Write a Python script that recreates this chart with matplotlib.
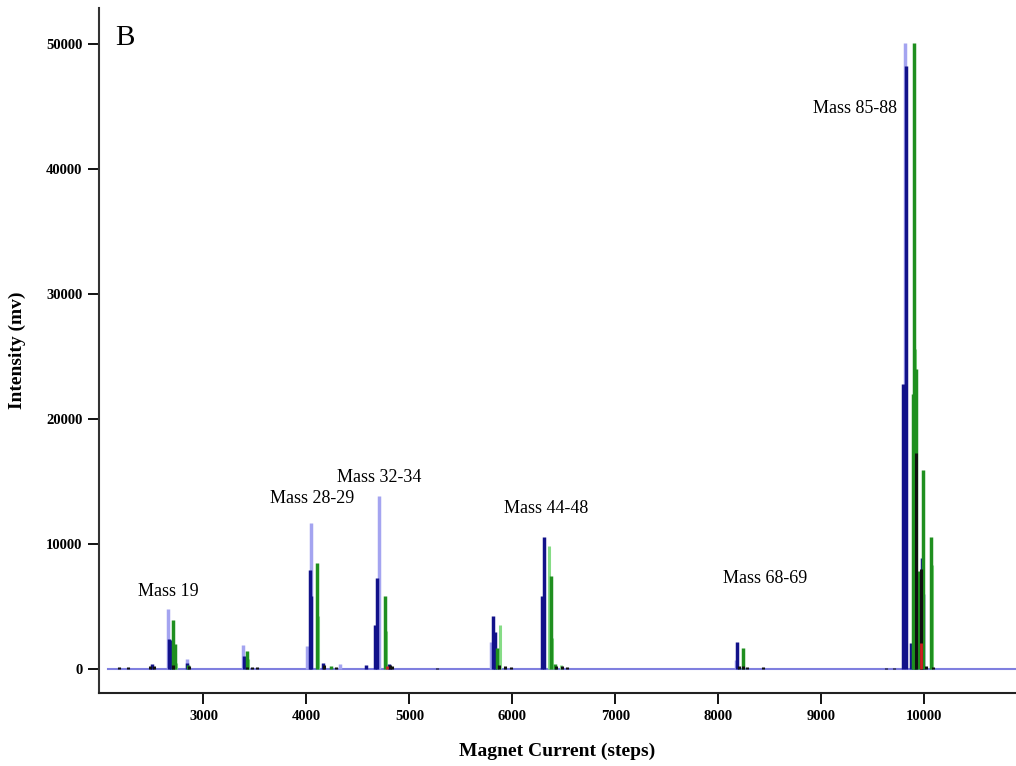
import matplotlib
matplotlib.use('Agg')
import matplotlib.pyplot as plt

# peaks: magnet current (steps) and intensity (mv) for each trace colour
lb_pos = [2660, 2838, 3388, 4009, 4047, 4322, 4703, 5796, 6295, 8172, 9813]
lb_h = [4800, 800, 1900, 1840, 11700, 400, 13800, 2130, 5000, 700, 50100]

db_pos = [2496, 2668, 2683, 2838, 3396, 4031, 4047, 4164, 4574, 4661, 4688, 4800,
          5813, 5832, 6288, 6304, 8180, 9790, 9822, 9868, 9910, 9975, 9990]
db_h = [400, 2400, 2300, 500, 1000, 7900, 5840, 500, 300, 3520, 7300, 400,
        4200, 2990, 5800, 10580, 2190, 22800, 48200, 2100, 13900, 8900, 6000]

gr_pos = [2700, 2720, 2850, 3420, 4106, 4240, 4758, 5852, 6378, 6417, 8243,
          9890, 9900, 9915, 9945, 9984, 10062]
gr_h = [3900, 2000, 300, 1400, 8500, 200, 5850, 1710, 7440, 400, 1700,
        22000, 50100, 24000, 7800, 15900, 10580]

lg_pos = [2730, 3430, 4110, 4770, 5877, 6359, 6385, 6467, 9908, 9895, 10070]
lg_h = [500, 800, 4200, 3000, 3500, 9840, 2480, 300, 25600, 8700, 8300]

bk_pos = [2180, 2270, 2480, 2520, 2700, 2860, 3420, 3470, 3520, 4170, 4290, 4810,
          4830, 5270, 5870, 5930, 5990, 6420, 6480, 6530, 8200, 8240, 8280, 8430,
          9630, 9700, 9918, 9968, 10020, 10080]
bk_h = [120, 120, 250, 200, 300, 250, 150, 120, 120, 300, 150, 350,
        250, 100, 300, 200, 150, 250, 200, 150, 250, 200, 150, 120,
        100, 100, 17300, 8000, 250, 150]

rd_pos = [4780, 9965]
rd_h = [200, 2100]

base_x = [2072, 10900]
base_y = [0, 0]

labels = ['Mass 19', 'Mass 28-29', 'Mass 32-34', 'Mass 44-48', 'Mass 68-69', 'Mass 85-88']
lab_x = [2660, 4057, 4710, 6330, 8454, 9328]
lab_y = [6160, 13640, 15280, 12800, 7200, 44800]

serif = 'Liberation Serif'

fig = plt.figure(figsize=(10.16, 7.66), dpi=100)
ax = fig.add_axes([0.0974, 0.0953, 0.9026, 0.8943])

ax.plot(base_x, base_y, color='#7f7fdf', lw=1.5, zorder=1)
ax.vlines(lb_pos, 0, lb_h, color='#a4a4f0', lw=2.5, zorder=2)
ax.vlines(lg_pos, 0, lg_h, color='#86dc86', lw=2.2, zorder=2)
ax.vlines(db_pos, 0, db_h, color='#12128a', lw=2.5, zorder=3)
ax.vlines(gr_pos, 0, gr_h, color='#1f8f1f', lw=2.5, zorder=3)
ax.vlines(bk_pos, 0, bk_h, color='#101010', lw=2.2, zorder=4)
ax.vlines(rd_pos, 0, rd_h, color='#d02020', lw=2, zorder=4)

for t, x, y in zip(labels, lab_x, lab_y):
    ax.text(x, y, t, ha='center', va='center', fontsize=13, family=serif)

ax.text(0.018, 0.975, 'B', transform=ax.transAxes, ha='left', va='top',
        fontsize=21, family=serif)

ax.set_xlim(1985, 10889)
ax.set_ylim(-1920, 52880)
ax.set_xticks(range(3000, 10001, 1000))
ax.set_yticks(range(0, 50001, 10000))
for lab in ax.get_xticklabels() + ax.get_yticklabels():
    lab.set_family(serif)
    lab.set_fontweight('bold')
    lab.set_fontsize(10.5)
ax.tick_params(axis='x', length=8, width=1.3, pad=4)
ax.tick_params(axis='y', length=8, width=1.3, pad=4)

ax.spines['top'].set_visible(False)
ax.spines['right'].set_visible(False)
ax.spines['left'].set_linewidth(1.5)
ax.spines['bottom'].set_linewidth(1.5)
ax.spines['left'].set_color('#333333')
ax.spines['bottom'].set_color('#222222')

ax.set_xlabel('Magnet Current (steps)', family=serif, fontweight='bold', fontsize=14)
ax.set_ylabel('Intensity (mv)', family=serif, fontweight='bold', fontsize=14)
ax.xaxis.set_label_coords(0.5, -0.072)
ax.yaxis.set_label_coords(-0.080, 0.5)

fig.savefig('out.png', dpi=100)
